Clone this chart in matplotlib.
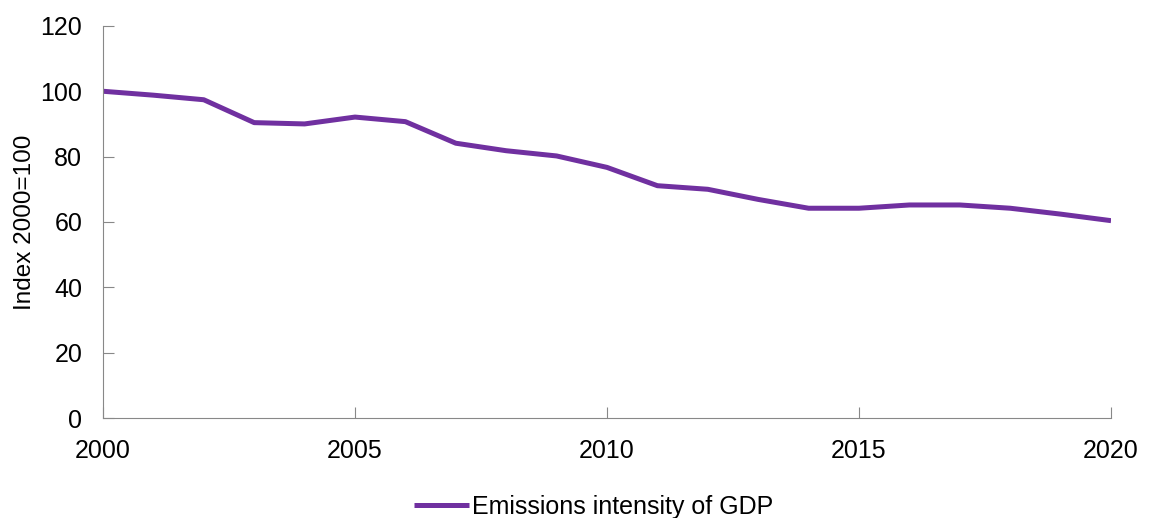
import matplotlib.pyplot as plt

years = list(range(2000, 2021))
intensity = [100, 98.8, 97.4, 90.4, 90.0, 92.1, 90.7, 84.1, 81.8, 80.2, 76.7,
             71.1, 70.0, 66.9, 64.2, 64.2, 65.2, 65.2, 64.2, 62.4, 60.4]

plt.rcParams["font.family"] = ["Liberation Sans", "DejaVu Sans"]

fig = plt.figure(figsize=(11.53, 5.18), dpi=100)
ax = fig.add_axes([0.0893, 0.193, 0.8743, 0.757])

ax.plot(years, intensity, color="#7030A0", linewidth=3.6, solid_capstyle="butt",
        label="Emissions intensity of GDP")

ax.set_xlim(2000, 2020)
ax.set_ylim(0, 120)
ax.set_xticks(range(2000, 2021, 5))
ax.set_yticks(range(0, 121, 20))
ax.tick_params(direction="in", length=8, color="#888888", labelsize=18)
ax.tick_params(axis="y", pad=15)
ax.tick_params(axis="x", pad=15)
for side in ["top", "right"]:
    ax.spines[side].set_visible(False)
for side in ["left", "bottom"]:
    ax.spines[side].set_color("#888888")
ax.set_ylabel("Index 2000=100", fontsize=17.5, labelpad=3)

fig.legend(loc="lower center", bbox_to_anchor=(0.515, -0.045), frameon=False,
           fontsize=18, handlelength=2.2, handletextpad=0.1)

fig.savefig("out.png", dpi=100, facecolor="white")
